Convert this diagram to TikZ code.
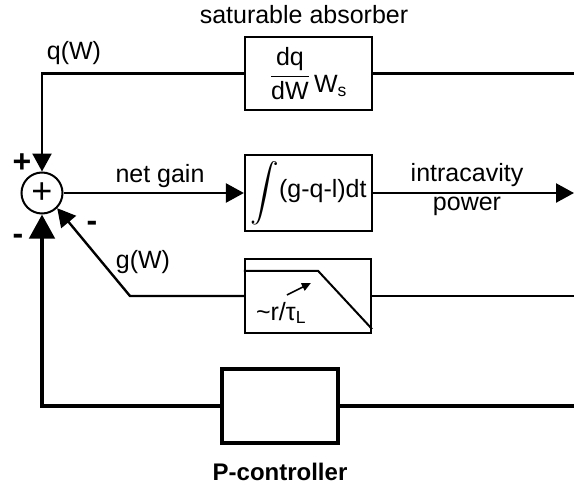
\documentclass[tikz,border=0pt]{standalone}
\usepackage{amsmath}
\usepackage{graphicx}
\usepackage{fontspec}
\setmainfont{Liberation Sans}
\usepackage{tikz}
\usetikzlibrary{arrows.meta, calc}

\begin{document}
\begin{tikzpicture}[x=1pt, y=-1pt,
        txt/.style={font=\fontsize{25}{29}\selectfont, inner sep=0pt},
        blk/.style={draw, line width=2.2pt, minimum width=127pt, minimum height=73pt, inner sep=0pt, font=\fontsize{25}{29}\selectfont},
        sig/.style={line width=2.4pt},
        tip/.style={-{Triangle[length=18pt,width=19pt]}},
        sgn/.style={font=\fontsize{32}{36}\selectfont\bfseries, inner sep=0pt}]
        \useasboundingbox (0,0) rectangle (574,485);
        \coordinate (edge) at (574,0);

        % Summing point
        \node[draw, circle, line width=2pt, minimum size=41pt, inner sep=0pt, font=\fontsize{36}{40}\selectfont] (sum) at (42,193) {+};

        % Blocks
        \node[blk] (sat) at (308.5,73.5) {$\dfrac{\text{dq}}{\text{dW}}$\,\raisebox{-0.4em}{W\textsubscript{s}}};
        \node[blk, minimum height=76pt] (int) at (308.5,193) {\raisebox{-0.1em}{\scalebox{1.15}{$\displaystyle\int$}}(g-q-l)dt};
        \node[blk, minimum width=126pt, minimum height=74pt] (filt) at (308,296) {};
        \node[blk, line width=4pt, minimum width=116pt, minimum height=74pt] (pc) at (280,406) {};

        % Filter curve
        \draw[line width=2pt] ([yshift=-13pt]filt.north west) -- ([xshift=-54pt,yshift=-13pt]filt.north east) -- ([yshift=5pt]filt.south east);
        \draw[line width=1.5pt, -{Triangle[length=9pt,width=8pt]}] ([xshift=43pt,yshift=1pt]filt.west) -- ([xshift=67pt,yshift=13pt]filt.west);
        \node[txt] (rtau) at (281,313) {\textasciitilde r/τ\textsubscript{L}};

        % Labels
        \node[txt] (satlbl) at (304,15) {saturable absorber};
        \node[txt] (qlbl) at (74,53) {q(W)};
        \node[txt] (gainlbl) at (160,176) {net gain};
        \node[txt, align=center] (powlbl) at (467,190) {intracavity\\power};
        \node[txt] (glbl) at (143,262) {g(W)};
        \node[txt, font=\fontsize{24}{28}\selectfont\bfseries] (pclbl) at (280,472) {P-controller};
        \node[sgn] (plus) at (22,163) {+};
        \node[sgn] (minA) at (92,226) {-};
        \node[sgn] (minB) at (18,239) {-};

        % Signals
        \coordinate (gbend) at (130,296);
        \draw[sig] (sat.east) -- (sat.east -| edge);
        \draw[sig, tip] (sat.west) -| (sum.north);
        \draw[sig, tip] (sum.east) -- (int.west);
        \draw[sig, tip] (int.east) -- (int.east -| edge);
        \draw[sig] (filt.east) -- (filt.east -| edge);
        \draw[sig, tip] (filt.west) -- (gbend) -- (sum.-45);
        \draw[line width=4.5pt] (pc.east) -- (pc.east -| edge);
        \draw[line width=4.5pt, -{Triangle[length=24pt,width=25pt]}] (pc.west) -| (sum.south);
    \end{tikzpicture}
\end{document}
